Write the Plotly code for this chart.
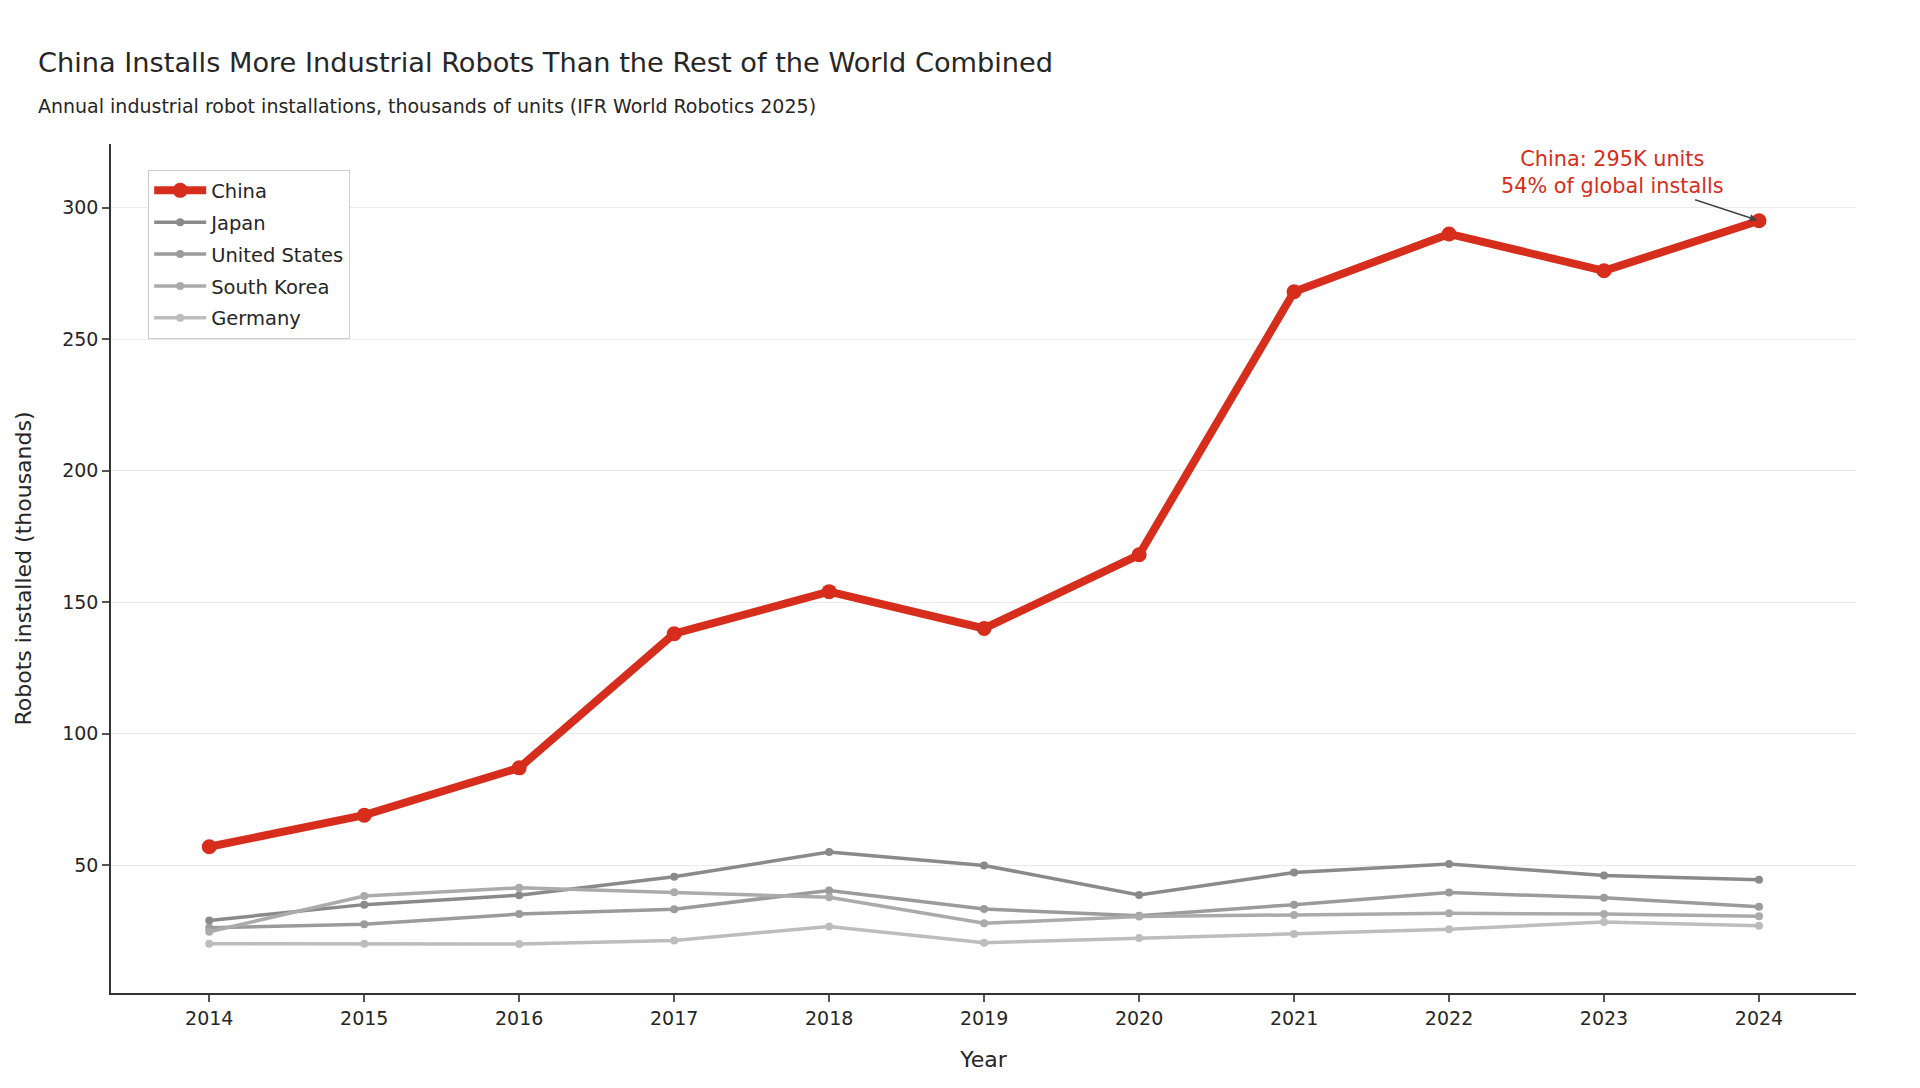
import plotly.graph_objects as go

years = [2014, 2015, 2016, 2017, 2018, 2019, 2020, 2021, 2022, 2023, 2024]
china = [57, 69, 87, 138, 154, 140, 168, 268, 290, 276, 295]
japan = [29, 35, 38.6, 45.6, 55, 49.9, 38.7, 47.2, 50.4, 46.1, 44.5]
united_states = [26.2, 27.5, 31.4, 33.2, 40.4, 33.3, 30.8, 35, 39.6, 37.6, 34.2]
south_korea = [24.7, 38.3, 41.4, 39.7, 37.8, 27.9, 30.5, 31.1, 31.7, 31.4, 30.6]
germany = [20.1, 20.1, 20.0, 21.4, 26.7, 20.5, 22.3, 23.8, 25.6, 28.4, 27.0]
y_ticks = [50, 100, 150, 200, 250, 300]
x_ticks = years

RED = "#d62d1c"
FONT = "DejaVu Sans"
TXT = "#262626"

fig = go.Figure()

grays = [
    ("Japan", japan, "#8a8a8a", 2),
    ("United States", united_states, "#9b9b9b", 3),
    ("South Korea", south_korea, "#ababab", 4),
    ("Germany", germany, "#bdbdbd", 5),
]
for name, vals, col, rank in grays:
    fig.add_trace(go.Scatter(
        x=years, y=vals, name=name, mode="lines+markers",
        line=dict(color=col, width=3.5),
        marker=dict(color=col, size=8),
        legendrank=rank, legendgroup=name,
    ))

fig.add_trace(go.Scatter(
    x=years, y=china, name="China", mode="lines+markers",
    line=dict(color=RED, width=8),
    marker=dict(color=RED, size=15),
    legendrank=1, legendgroup="China",
))

fig.add_annotation(
    x=2024, y=295, xref="x", yref="y",
    text="China: 295K units<br>54% of global installs",
    font=dict(family=FONT, size=20.8, color=RED),
    showarrow=True, ax=-146, ay=-48,
    arrowcolor="#444444", arrowwidth=1.5, arrowhead=2, arrowsize=1, standoff=2,
    align="center",
)

# plot area in page pixels: left 103, right 1848, top 136, bottom 985
fig.add_annotation(
    xref="paper", yref="paper", x=-0.0430, y=1.0448,
    xanchor="left", yanchor="middle",
    text="Annual industrial robot installations, thousands of units (IFR World Robotics 2025)",
    showarrow=False, font=dict(family=FONT, size=19, color=TXT),
)

fig.update_layout(
    width=1920, height=1088,
    paper_bgcolor="white", plot_bgcolor="white",
    margin=dict(l=103, r=72, t=136, b=103),
    font=dict(family=FONT, size=19, color=TXT),
    title=dict(
        text="China Installs More Industrial Robots Than the Rest of the World Combined",
        x=30 / 1920, xanchor="left", xref="container",
        y=1 - 54 / 1088, yanchor="middle", yref="container",
        font=dict(family=FONT, size=27.2, color=TXT),
    ),
    showlegend=True,
    legend=dict(
        x=0.0212, y=0.9694, xanchor="left", yanchor="top",
        bgcolor="white", bordercolor="#cccccc", borderwidth=1.2,
        font=dict(family=FONT, size=19.5, color=TXT),
        itemwidth=52, traceorder="grouped", tracegroupgap=3.5,
    ),
)

fig.update_xaxes(
    range=[2013.366, 2024.626], tickvals=x_ticks,
    showgrid=False, zeroline=False,
    showline=True, linecolor="#333333", linewidth=1.6,
    ticks="outside", ticklen=7, tickwidth=1.5, tickcolor="#555555",
    tickfont=dict(family=FONT, size=19, color=TXT),
    title=dict(text="Year", font=dict(family=FONT, size=22, color=TXT), standoff=24),
)
fig.update_yaxes(
    range=[1.4, 324.2], tickvals=y_ticks,
    showgrid=True, gridcolor="#ebebeb", gridwidth=1, zeroline=False,
    showline=True, linecolor="#333333", linewidth=1.6,
    ticks="outside", ticklen=7, tickwidth=1.5, tickcolor="#555555",
    tickfont=dict(family=FONT, size=19, color=TXT),
    title=dict(text="Robots installed (thousands)", font=dict(family=FONT, size=22, color=TXT), standoff=24),
)

fig.write_html("out.html")
